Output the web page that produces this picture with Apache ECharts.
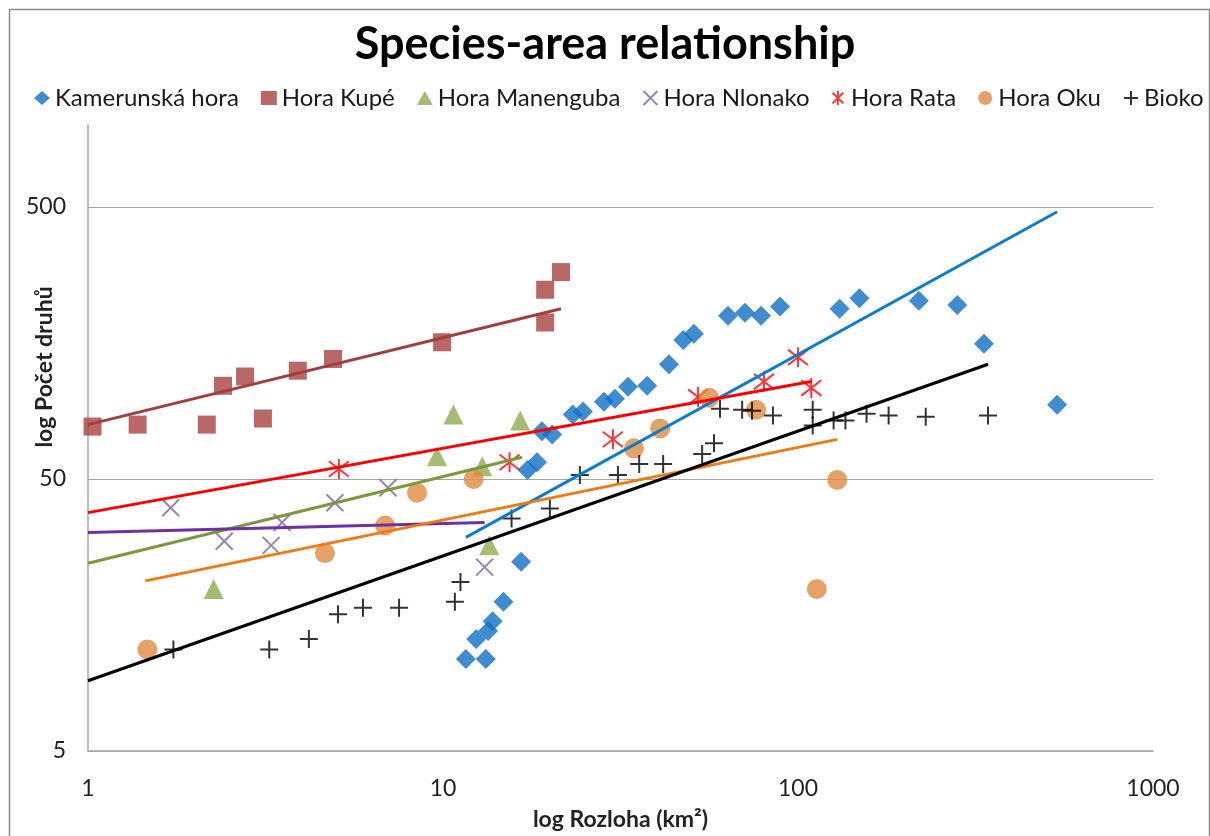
<!DOCTYPE html>
<html><head><meta charset="utf-8">
<script src="https://cdn.jsdelivr.net/npm/echarts@6/dist/echarts.min.js"></script>
<style>html,body{margin:0;padding:0;background:#fff}#c{width:1210px;height:836px}</style>
</head><body><div id="c"></div>
<script>
// ---- data ----
const seriesNames = ['Kamerunská hora', 'Hora Kupé', 'Hora Manenguba', 'Hora Nlonako', 'Hora Rata', 'Hora Oku', 'Bioko'];
const xTickLabels = ['1', '10', '100', '1000'];
const yTickLabels = ['5', '50', '500'];

const kamX = [11.6, 13.2, 12.4, 13.4, 13.8, 14.8, 16.6, 17.3, 18.4, 19.0, 20.3, 23.2, 24.8, 28.4, 30.5, 33.2, 37.6, 43.3, 47.5, 50.9, 63.5, 70.9, 78.7, 89.0, 131, 149, 219, 281, 334, 537];
const kamY = [10.9, 10.9, 12.9, 13.8, 15.0, 17.7, 24.8, 53.9, 57.6, 74.8, 72.9, 86.2, 88.4, 96.1, 98.5, 109, 110, 132, 162, 171, 199, 204, 199, 215, 211, 231, 226, 218, 157, 93.7];

const kupeX = [1.03, 1.38, 2.16, 2.40, 2.77, 3.11, 3.90, 4.90, 9.94, 19.4, 19.4, 21.5];
const kupeY = [77.9, 79.2, 79.2, 110, 119, 83.4, 125, 138, 159, 188, 248, 288];

const manX = [2.26, 9.62, 10.7, 12.9, 13.5, 16.5];
const manY = [19.7, 60.6, 86.2, 55.7, 28.5, 82.0];

const nloX = [1.71, 2.42, 3.28, 3.52, 4.96, 7.00, 13.1];
const nloY = [39.2, 29.5, 28.5, 34.6, 40.9, 46.4, 23.7];

const rataX = [5.09, 15.4, 30.1, 52.3, 80.2, 100, 109];
const rataY = [54.4, 57.6, 69.9, 100, 114, 140, 108];

const okuX = [1.47, 4.65, 6.87, 8.45, 12.2, 34.5, 40.9, 56.2, 76.2, 113, 129];
const okuY = [11.8, 26.7, 33.7, 44.5, 50.0, 64.8, 76.6, 99.4, 89.8, 19.7, 49.6];

const biokoX = [1.74, 3.24, 4.19, 5.06, 5.95, 7.52, 10.8, 11.2, 15.6, 20.0, 24.3, 31.1, 35.7, 41.7, 53.7, 58.0, 60.3, 69.6, 74.2, 85.0, 110, 110, 126, 136, 156, 180, 229, 343];
const biokoY = [11.8, 11.8, 12.9, 15.9, 16.8, 16.8, 17.7, 20.9, 35.8, 38.9, 51.7, 51.7, 56.7, 56.7, 61.7, 67.6, 90.6, 89.8, 89.1, 85.5, 89.8, 78.6, 82.0, 82.0, 86.9, 85.5, 84.7, 85.5];

// power trend lines: [start, end]
const kamTrendX = [11.6, 537],  kamTrendY = [30.5, 480];
const kupeTrendX = [1, 21.5],   kupeTrendY = [79.2, 211];
const manTrendX = [1, 16.7],    manTrendY = [24.5, 60.1];
const nloTrendX = [1, 13.1],    nloTrendY = [31.8, 34.6];
const rataTrendX = [1, 109],    rataTrendY = [37.6, 114];
const okuTrendX = [1.45, 129],  okuTrendY = [21.1, 69.9];
const biokoTrendX = [1, 343],   biokoTrendY = [9.06, 132];

// ---- styles ----
const Y_MIN = 5, Y_MAX = 1000;
const ly = v => Math.log10(v / Y_MIN);
const pts = (xs, ys) => xs.map((x, i) => [x, ly(ys[i])]);

const P_X = 'path://M0,0L10,10M10,0L0,10';
const P_AST = 'path://M0,0L10,10M10,0L0,10M5,-1.5L5,11.5';
const P_PLUS = 'path://M5,0L5,10M0,5L10,5';

const defs = [
  {x: kamX, y: kamY, tx: kamTrendX, ty: kamTrendY, symbol: 'diamond', size: 20, fill: '#0F6FC6', line: '#0A7CD2'},
  {x: kupeX, y: kupeY, tx: kupeTrendX, ty: kupeTrendY, symbol: 'rect', size: 18, fill: '#A8423F', line: '#A0403C'},
  {x: manX, y: manY, tx: manTrendX, ty: manTrendY, symbol: 'triangle', size: 20, fill: '#8DAD4F', line: '#7A9A3A'},
  {x: nloX, y: nloY, tx: nloTrendX, ty: nloTrendY, symbol: P_X, size: 17, stroke: '#8064A2', line: '#7030A0'},
  {x: rataX, y: rataY, tx: rataTrendX, ty: rataTrendY, symbol: P_AST, size: 20, stroke: '#FF0000', line: '#FF0000'},
  {x: okuX, y: okuY, tx: okuTrendX, ty: okuTrendY, symbol: 'circle', size: 20, fill: '#E08A40', line: '#F07A12'},
  {x: biokoX, y: biokoY, tx: biokoTrendX, ty: biokoTrendY, symbol: P_PLUS, size: 18, stroke: '#000000', line: '#000000'}
];

const series = [];
defs.forEach((d, i) => {
  const itemStyle = d.stroke
    ? {color: 'rgba(0,0,0,0)', borderColor: d.stroke, borderWidth: 2}
    : {color: d.fill, borderWidth: 0};
  series.push({
    name: seriesNames[i], type: 'scatter', z: 2,
    symbol: d.symbol, symbolSize: d.size, itemStyle: itemStyle,
    data: pts(d.x, d.y)
  });
});
defs.forEach((d, i) => {
  series.push({
    name: seriesNames[i] + ' trend', type: 'line', z: 3,
    showSymbol: false, symbol: 'none',
    lineStyle: {color: d.line, width: 3},
    data: pts(d.tx, d.ty)
  });
});

const FONT = 'Lato';
const chart = echarts.init(document.getElementById('c'), null, {renderer: 'canvas'});
chart.setOption({
  animation: false,
  backgroundColor: '#ffffff',
  textStyle: {fontFamily: FONT},
  title: {
    text: 'Species-area relationship', left: 'center', top: 17,
    textStyle: {fontFamily: FONT, fontSize: 45, fontWeight: 'bold', color: '#000'}
  },
  legend: {
    data: seriesNames, left: 29, top: 81,
    itemWidth: 16, itemHeight: 14, itemGap: 22,
    textStyle: {fontFamily: FONT, fontSize: 24, color: '#1a1a1a'}
  },
  grid: {left: 88, right: 57, top: 125, bottom: 78},
  xAxis: {
    type: 'log', logBase: 10, min: 1, max: 1000,
    axisLine: {lineStyle: {color: '#a6a6a6', width: 1.5}},
    axisTick: {show: false},
    splitLine: {show: false},
    axisLabel: {
      fontFamily: FONT, fontSize: 23, color: '#222', margin: 26,
      formatter: v => xTickLabels[Math.round(Math.log10(v))] || ''
    },
    name: 'log Rozloha (km²)', nameLocation: 'middle', nameGap: 57,
    nameTextStyle: {fontFamily: FONT, fontSize: 23, fontWeight: 'bold', color: '#222'}
  },
  yAxis: {
    type: 'value', min: 0, max: ly(Y_MAX), interval: 1,
    axisLine: {show: true, lineStyle: {color: '#a6a6a6', width: 1.5}},
    axisTick: {show: false},
    splitLine: {show: true, showMaxLine: false, lineStyle: {color: '#a6a6a6', width: 1.2}},
    axisLabel: {
      fontFamily: FONT, fontSize: 23, color: '#222', margin: 22, showMaxLabel: false,
      formatter: v => {
        const r = Math.round(v);
        return Math.abs(v - r) < 1e-6 ? (yTickLabels[r] || '') : '';
      }
    }
  },
  graphic: [
    {type: 'rect', left: 7, top: 7, shape: {width: 1200, height: 840},
     style: {fill: 'none', stroke: '#8c8c8c', lineWidth: 1.5}, silent: true, z: -1},
    {type: 'text', x: 45, y: 367, rotation: Math.PI / 2,
     style: {text: 'log Počet druhů', font: 'bold 23px ' + FONT, fill: '#222', textAlign: 'center', textVerticalAlign: 'middle'}}
  ],
  series: series
});
</script></body></html>
